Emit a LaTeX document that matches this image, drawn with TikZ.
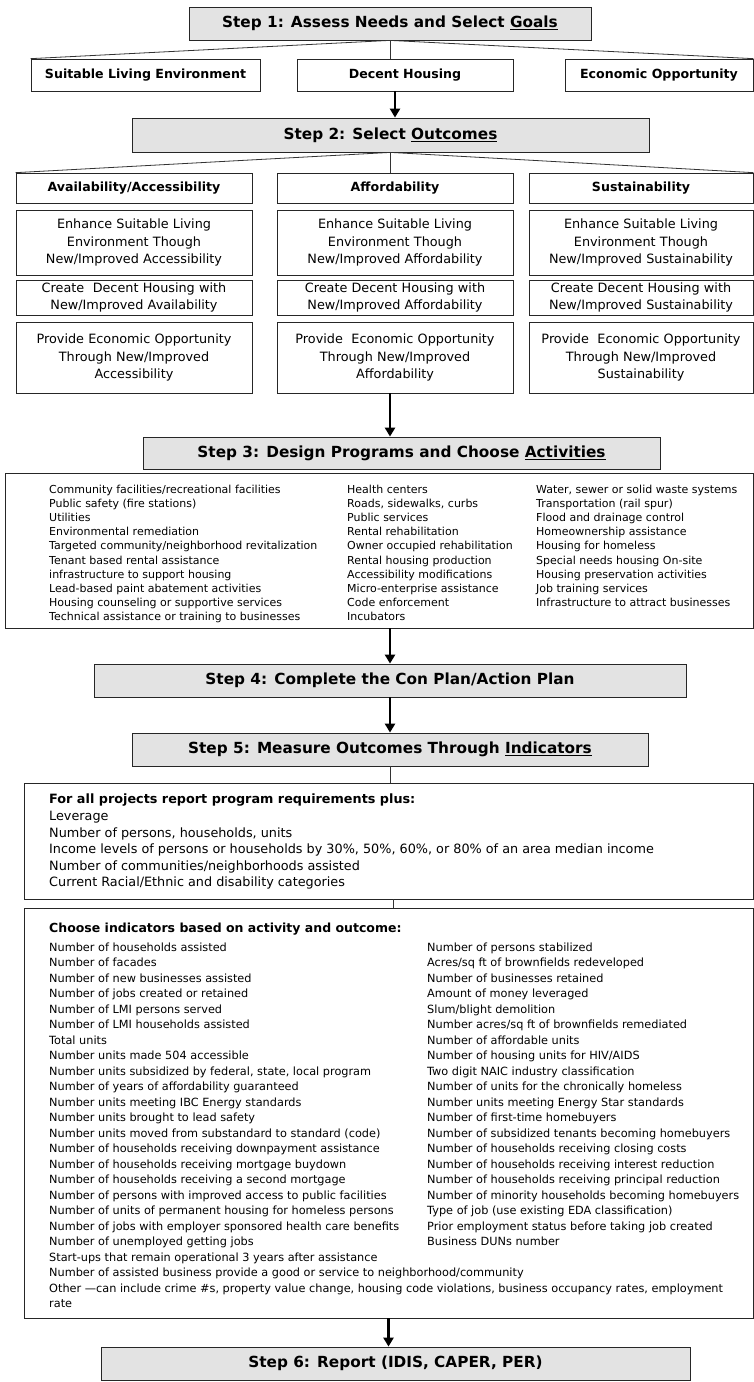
\documentclass[tikz,border=0pt]{standalone}
\usepackage{fontspec}
\setmainfont{DejaVu Sans}
\usetikzlibrary{arrows.meta}

\begin{document}
\begin{tikzpicture}[x=1pt,y=-1pt,
  stepbox/.style={draw=black!85, line width=0.8pt, fill=black!11, inner sep=0pt,
    font=\bfseries\fontsize{15.3}{18}\selectfont},
  goalbox/.style={draw=black!85, line width=0.7pt, fill=white, inner sep=0pt,
    font=\bfseries\fontsize{12.6}{15}\selectfont},
  outbox/.style={draw=black!85, line width=0.7pt, inner sep=0pt, align=center,
    text width=#1, font=\fontsize{12.8}{17.5}\selectfont},
  listbox/.style={draw=black!85, line width=0.7pt, inner sep=0pt},
  col/.style={anchor=north west, inner sep=0pt, align=left},
  flow/.style={line width=2.4pt, -{Triangle[width=10pt,length=9pt]}},
  fan/.style={line width=0.8pt, draw=black!80},
]
\fill[white] (0,0) rectangle (754,1382);
\useasboundingbox (0,0) rectangle (754,1382);

% ---- Step 1 and the three goals
\node[stepbox, minimum width=402pt, minimum height=33pt] (s1) at (390,23.5)
  {Step 1: Assess Needs and Select \underline{Goals}};
\node[goalbox, minimum width=229pt, minimum height=32pt] (g1) at (145.5,75)
  {Suitable Living Environment};
\node[goalbox, minimum width=216pt, minimum height=32pt] (g2) at (405,75)
  {Decent Housing};
\node[goalbox, minimum width=188pt, minimum height=32pt] (g3) at (659,75)
  {Economic Opportunity};
\draw[fan] (s1.south) -- (g1.north west);
\draw[fan] (s1.south) -- (g3.north east);
\draw[fan] (s1.south) -- (s1.south |- g2.north);

% ---- Step 2 and the outcomes
\node[stepbox, minimum width=517pt, minimum height=34pt] (s2) at (390.5,135)
  {Step 2: Select \underline{Outcomes}};
\draw[flow] ([xshift=-10pt]g2.south) -- ([xshift=-10pt]g2.south |- s2.north);

\node[goalbox, minimum width=236pt, minimum height=30pt] (h1) at (134,188)
  {Availability/Accessibility};
\node[goalbox, minimum width=236pt, minimum height=30pt] (h2) at (395,188)
  {Affordability};
\node[goalbox, minimum width=224pt, minimum height=30pt] (h3) at (641,188)
  {Sustainability};
\draw[fan] (s2.south) -- (h1.north west);
\draw[fan] (s2.south) -- (h3.north east);
\draw[fan] (s2.south) -- (s2.south |- h2.north);

% enhance / create / provide boxes, one column per outcome
\node[outbox=236pt, minimum height=65pt] (e1) at (134,242.5)
  {Enhance Suitable Living\\Environment Though\\New/Improved Accessibility};
\node[outbox=236pt, minimum height=35pt] (c1) at (134,297.5)
  {Create\ \ Decent Housing with\\New/Improved Availability};
\node[outbox=236pt, minimum height=71pt] (p1) at (134,357.5)
  {Provide Economic Opportunity\\Through New/Improved\\Accessibility};

\node[outbox=236pt, minimum height=65pt] (e2) at (395,242.5)
  {Enhance Suitable Living\\Environment Though\\New/Improved Affordability};
\node[outbox=236pt, minimum height=35pt] (c2) at (395,297.5)
  {Create Decent Housing with\\New/Improved Affordability};
\node[outbox=236pt, minimum height=71pt] (p2) at (395,357.5)
  {Provide\ \ Economic Opportunity\\Through New/Improved\\Affordability};

\node[outbox=224pt, minimum height=65pt] (e3) at (641,242.5)
  {Enhance Suitable Living\\Environment Though\\New/Improved Sustainability};
\node[outbox=224pt, minimum height=35pt] (c3) at (641,297.5)
  {Create Decent Housing with\\New/Improved Sustainability};
\node[outbox=224pt, minimum height=71pt] (p3) at (641,357.5)
  {Provide\ \ Economic Opportunity\\Through New/Improved\\Sustainability};

% ---- Step 3 and the activities
\node[stepbox, minimum width=517pt, minimum height=32pt] (s3) at (401.5,453)
  {Step 3: Design Programs and Choose \underline{Activities}};
\draw[flow] ([xshift=-5pt]p2.south) -- ([xshift=-5pt]p2.south |- s3.north);

\node[listbox, minimum width=748pt, minimum height=155pt] (act) at (379,550.5) {};
\begin{scope}[every node/.style={col, font=\fontsize{11}{14.2}\selectfont}]
\node (act1) at (49,484.5) {Community facilities/recreational facilities\\
Public safety (fire stations)\\
Utilities\\
Environmental remediation\\
Targeted community/neighborhood revitalization\\
Tenant based rental assistance\\
infrastructure to support housing\\
Lead-based paint abatement activities\\
Housing counseling or supportive services\\
Technical assistance or training to businesses};
\node (act2) at (347,484.5) {Health centers\\
Roads, sidewalks, curbs\\
Public services\\
Rental rehabilitation\\
Owner occupied rehabilitation\\
Rental housing production\\
Accessibility modifications\\
Micro-enterprise assistance\\
Code enforcement\\
Incubators};
\node (act3) at (536,484.5) {Water, sewer or solid waste systems\\
Transportation (rail spur)\\
Flood and drainage control\\
Homeownership assistance\\
Housing for homeless\\
Special needs housing On-site\\
Housing preservation activities\\
Job training services\\
Infrastructure to attract businesses};
\end{scope}

% ---- Steps 4 and 5
\node[stepbox, minimum width=592pt, minimum height=33pt] (s4) at (390,680.5)
  {Step 4: Complete the Con Plan/Action Plan};
\draw[flow] (act.south -| s4.north) -- (s4.north);
\node[stepbox, minimum width=516pt, minimum height=33pt] (s5) at (390,749.5)
  {Step 5: Measure Outcomes Through \underline{Indicators}};
\draw[flow] (s4.south) -- (s5.north);

% ---- program requirements
\node[listbox, minimum width=729pt, minimum height=116pt] (req) at (388.5,841) {};
\draw[fan] (s5.south) -- (s5.south |- req.north);
\node[col, font=\fontsize{12.8}{16.6}\selectfont] (reqtxt) at (49,794)
  {\textbf{For all projects report program requirements plus:}\\
Leverage\\
Number of persons, households, units\\
Income levels of persons or households by 30\%, 50\%, 60\%, or 80\% of an area median income\\
Number of communities/neighborhoods assisted\\
Current Racial/Ethnic and disability categories};

% ---- indicators
\node[listbox, minimum width=729pt, minimum height=410pt] (ind) at (388.5,1113) {};
\draw[fan] ([xshift=4.5pt]req.south) -- ([xshift=4.5pt]req.south |- ind.north);
\node[col, font=\bfseries\fontsize{12.5}{15.5}\selectfont] (indhead) at (49,923)
  {Choose indicators based on activity and outcome:};
\begin{scope}[every node/.style={col, font=\fontsize{11.3}{15.5}\selectfont}]
\node (ind1) at (49,942.5) {Number of households assisted\\
Number of facades\\
Number of new businesses assisted\\
Number of jobs created or retained\\
Number of LMI persons served\\
Number of LMI households assisted\\
Total units\\
Number units made 504 accessible\\
Number units subsidized by federal, state, local program\\
Number of years of affordability guaranteed\\
Number units meeting IBC Energy standards\\
Number units brought to lead safety\\
Number units moved from substandard to standard (code)\\
Number of households receiving downpayment assistance\\
Number of households receiving mortgage buydown\\
Number of households receiving a second mortgage\\
Number of persons with improved access to public facilities\\
Number of units of permanent housing for homeless persons\\
Number of jobs with employer sponsored health care benefits\\
Number of unemployed getting jobs\\
Start-ups that remain operational 3 years after assistance\\
Number of assisted business provide a good or service to neighborhood/community\\
Other ---can include crime \#s, property value change, housing code violations, business occupancy rates, employment\\
rate};
\node (ind2) at (427,942.5) {Number of persons stabilized\\
Acres/sq ft of brownfields redeveloped\\
Number of businesses retained\\
Amount of money leveraged\\
Slum/blight demolition\\
Number acres/sq ft of brownfields remediated\\
Number of affordable units\\
Number of housing units for HIV/AIDS\\
Two digit NAIC industry classification\\
Number of units for the chronically homeless\\
Number units meeting Energy Star standards\\
Number of first-time homebuyers\\
Number of subsidized tenants becoming homebuyers\\
Number of households receiving closing costs\\
Number of households receiving interest reduction\\
Number of households receiving principal reduction\\
Number of minority households becoming homebuyers\\
Type of job (use existing EDA classification)\\
Prior employment status before taking job created\\
Business DUNs number};
\end{scope}

% ---- Step 6
\node[stepbox, minimum width=589pt, minimum height=33pt] (s6) at (395.5,1363.5)
  {Step 6: Report (IDIS, CAPER, PER)};
\draw[flow] (ind.south) -- (ind.south |- s6.north);
\end{tikzpicture}
\end{document}
